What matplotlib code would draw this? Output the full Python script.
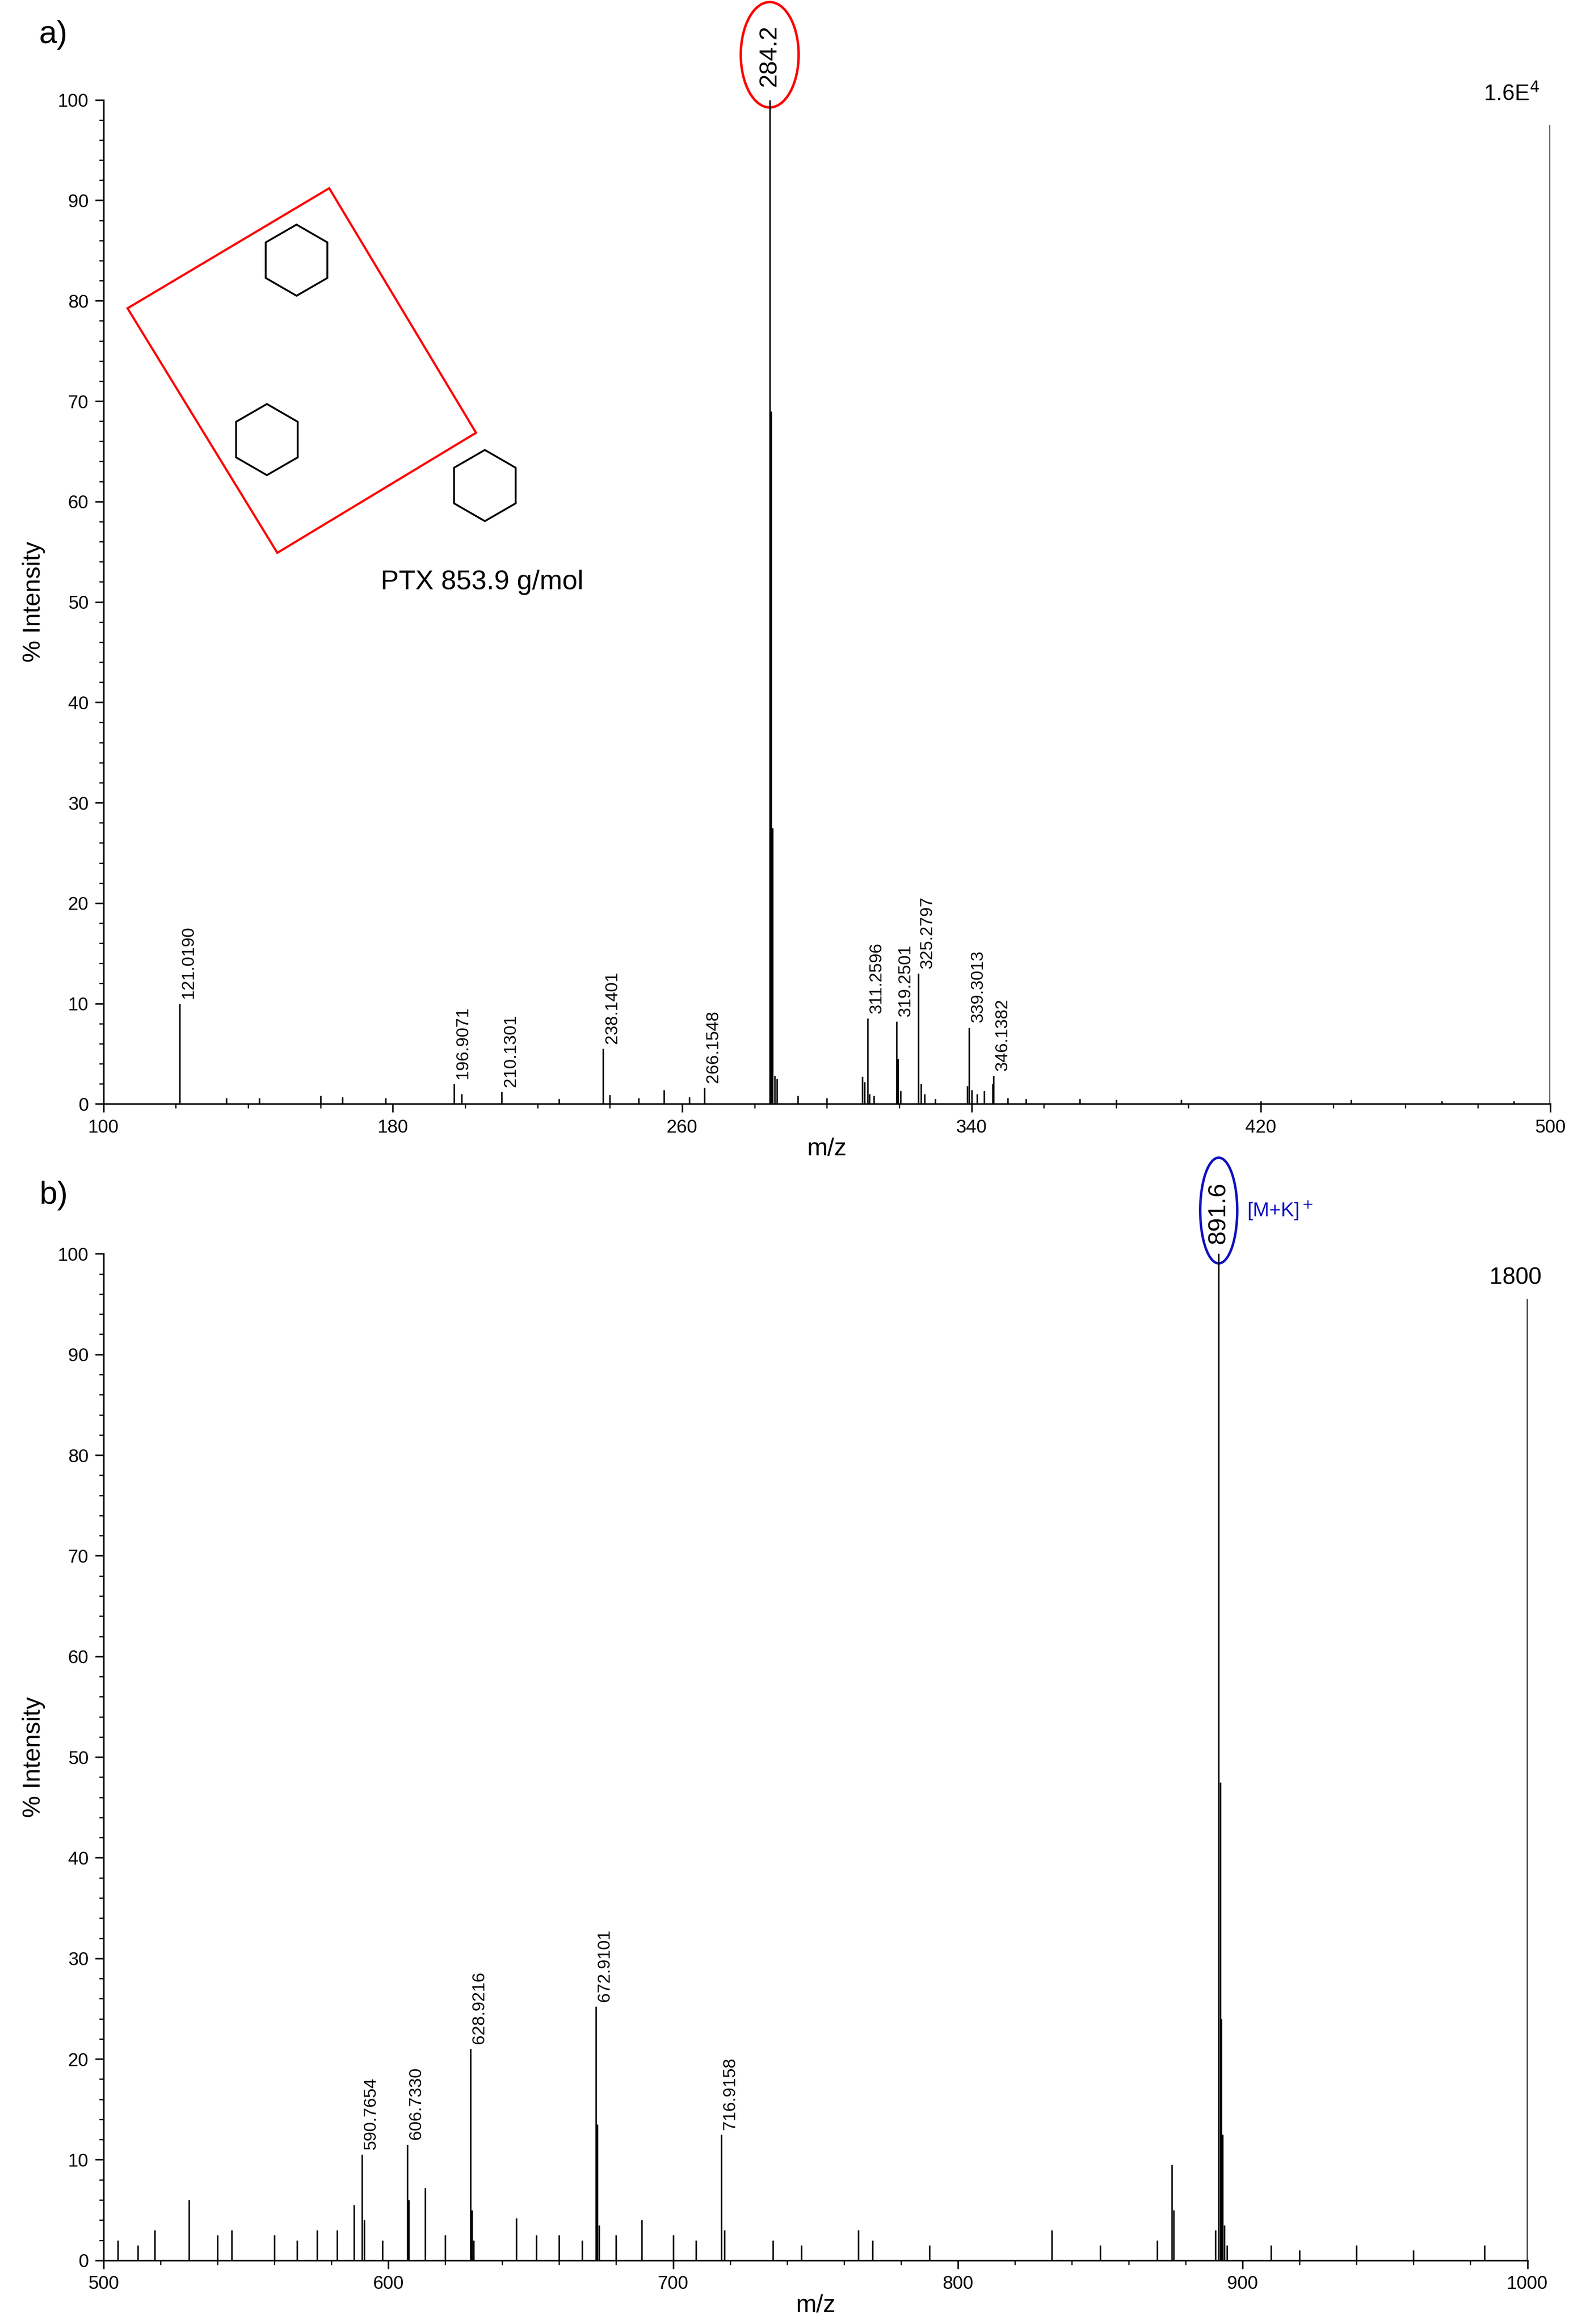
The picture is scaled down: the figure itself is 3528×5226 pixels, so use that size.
import numpy as np
import matplotlib.pyplot as plt
from matplotlib.patches import Ellipse, Polygon, RegularPolygon
from matplotlib.ticker import MultipleLocator
from matplotlib.transforms import IdentityTransform

# panel a) labelled peaks (m/z, % intensity)
a_label_mz = [121.0190, 196.9071, 210.1301, 238.1401, 266.1548,
              311.2596, 319.2501, 325.2797, 339.3013, 346.1382]
a_label_int = [10.0, 2.0, 1.2, 5.5, 1.6, 8.5, 8.2, 13.0, 7.6, 2.8]
a_base_mz = 284.2
a_base_int = 100.0
# panel a) unlabelled peaks
a_minor_mz = [284.6, 285.0, 285.6, 286.2, 309.8, 310.4, 311.8, 313.0, 319.6, 320.4,
              326.0, 327.0, 338.8, 340.0, 341.5, 343.5, 345.8, 255.0, 199.0, 178.0,
              143.0, 160.0, 166.0, 240.0, 292.0, 300.0, 262.0, 355.0, 370.0, 398.0,
              420.0, 445.0, 470.0, 490.0, 134.0, 226.0, 248.0, 330.0, 350.0, 380.0]
a_minor_int = [69.0, 27.5, 2.8, 2.5, 2.7, 2.2, 1.0, 0.8, 4.5, 1.3,
               2.0, 1.0, 1.8, 1.4, 1.0, 1.3, 2.0, 1.4, 1.0, 0.6,
               0.6, 0.8, 0.7, 0.9, 0.8, 0.6, 0.7, 0.5, 0.5, 0.4,
               0.3, 0.4, 0.3, 0.3, 0.6, 0.5, 0.6, 0.5, 0.6, 0.4]

# panel b) labelled peaks
b_label_mz = [590.7654, 606.7330, 628.9216, 672.9101, 716.9158]
b_label_int = [10.5, 11.5, 21.0, 25.2, 12.5]
b_base_mz = 891.6
b_base_int = 100.0
b_minor_mz = [892.1, 892.5, 893.0, 893.5, 875.2, 875.8, 890.5, 894.5, 673.4, 674.0,
              629.4, 630.0, 607.2, 613.0, 588.0, 591.5, 530.0, 518.0, 545.0, 560.0,
              575.0, 645.0, 660.0, 689.0, 700.0, 718.0, 735.0, 765.0, 790.0, 833.0,
              850.0, 870.0, 910.0, 920.0, 940.0, 960.0, 985.0, 505.0, 512.0, 540.0,
              568.0, 582.0, 598.0, 620.0, 652.0, 668.0, 680.0, 708.0, 745.0, 770.0]
b_minor_int = [47.5, 24.0, 12.5, 3.5, 9.5, 5.0, 3.0, 1.5, 13.5, 3.5,
               5.0, 2.0, 6.0, 7.2, 5.5, 4.0, 6.0, 3.0, 3.0, 2.5,
               3.0, 4.2, 2.5, 4.0, 2.5, 3.0, 2.0, 3.0, 1.5, 3.0,
               1.5, 2.0, 1.5, 1.0, 1.5, 1.0, 1.5, 2.0, 1.5, 2.5,
               2.0, 3.0, 2.0, 2.5, 2.5, 2.0, 2.5, 2.0, 1.5, 2.0]

a_xticks = [100, 180, 260, 340, 420, 500]
b_xticks = [500, 600, 700, 800, 900, 1000]

TICK_FS = 30
LAB_FS = 40
PEAK_FS = 28

fig = plt.figure(figsize=(35.28, 52.26), dpi=100)
plt.rcParams['font.family'] = ['Liberation Sans', 'DejaVu Sans']


def style_axes(ax, xlim, xticks, minor):
    ax.set_xlim(*xlim)
    ax.set_ylim(0, 100)
    ax.set_xticks(xticks)
    ax.xaxis.set_minor_locator(MultipleLocator(minor))
    ax.yaxis.set_major_locator(MultipleLocator(10))
    ax.yaxis.set_minor_locator(MultipleLocator(2))
    for s in ['top', 'right']:
        ax.spines[s].set_visible(False)
    for s in ['left', 'bottom']:
        ax.spines[s].set_linewidth(2.5)
    ax.tick_params(which='major', length=14, width=2.5, labelsize=TICK_FS, pad=10)
    ax.tick_params(which='minor', length=7, width=2)
    ax.set_xlabel('m/z', fontsize=LAB_FS, labelpad=2)
    ax.set_ylabel('% Intensity', fontsize=LAB_FS, labelpad=20)


def draw_peaks(ax, mz, inten, lw=2.5):
    ax.vlines(mz, 0, inten, colors='black', linewidth=lw)


# ---- panel a
ax1 = fig.add_axes([0.066, 0.525, 0.922, 0.432])
style_axes(ax1, (100, 500), a_xticks, 20)
draw_peaks(ax1, a_minor_mz, a_minor_int)
draw_peaks(ax1, a_label_mz, a_label_int)
draw_peaks(ax1, [a_base_mz], [a_base_int])
ax1.vlines(500, 0, 97.5, colors='black', linewidth=3)
ax1.text(497, 99.5, '1.6E$^4$', fontsize=36, ha='right', va='bottom')
for m, h in zip(a_label_mz, a_label_int):
    ax1.text(m + 0.3, h + 0.5, f'{m:.4f}', rotation=90, fontsize=PEAK_FS,
             ha='left', va='bottom')
ax1.text(a_base_mz, 101.3, f'{a_base_mz:.1f}', rotation=90, fontsize=40,
         ha='center', va='bottom', clip_on=False)
ax1.add_patch(Ellipse((a_base_mz, 104.5), 16, 10.5, fill=False, edgecolor='red',
                      linewidth=4, clip_on=False))
fig.text(0.025, 0.985, 'a)', fontsize=52, ha='left', va='center')

# structure sketch: red box, benzene rings and caption (reference pixel coords / 3.334)
SC = 3.334
W, H = 1058, 1568
box = [(86, 208), (222, 127), (321, 292), (187, 373)]
fig.patches.append(Polygon([(x / W, 1 - y / H) for x, y in box], closed=True,
                           fill=False, edgecolor='red', linewidth=3.5,
                           transform=fig.transFigure))
for cx, cy in [(200, 176), (180, 297), (327, 328)]:
    fig.patches.append(RegularPolygon((cx * SC, (H - cy) * SC), 6, radius=24 * SC,
                                      orientation=0, fill=False, edgecolor='black',
                                      linewidth=3, transform=IdentityTransform()))
fig.text(325 / W, 1 - 393 / H, 'PTX 853.9 g/mol', fontsize=44, ha='center', va='center')

# ---- panel b
ax2 = fig.add_axes([0.066, 0.0274, 0.9075, 0.4331])
style_axes(ax2, (500, 1000), b_xticks, 20)
draw_peaks(ax2, b_minor_mz, b_minor_int)
draw_peaks(ax2, b_label_mz, b_label_int)
draw_peaks(ax2, [b_base_mz], [b_base_int])
ax2.vlines(1000, 0, 95.5, colors='black', linewidth=3)
ax2.text(1005, 96.5, '1800', fontsize=38, ha='right', va='bottom', clip_on=False)
for m, h in zip(b_label_mz, b_label_int):
    ax2.text(m + 0.3, h + 0.5, f'{m:.4f}', rotation=90, fontsize=PEAK_FS,
             ha='left', va='bottom')
ax2.text(b_base_mz, 101.0, f'{b_base_mz:.1f}', rotation=90, fontsize=40,
         ha='center', va='bottom', clip_on=False)
ax2.add_patch(Ellipse((b_base_mz, 104.3), 13, 10.5, fill=False, edgecolor='#1010c0',
                      linewidth=4, clip_on=False))
ax2.text(b_base_mz + 10, 104.3, '[M+K]$^+$', fontsize=32, color='#1010c0',
         ha='left', va='center', clip_on=False)
fig.text(0.025, 0.4855, 'b)', fontsize=52, ha='left', va='center')

fig.savefig('out.png', dpi=100)
